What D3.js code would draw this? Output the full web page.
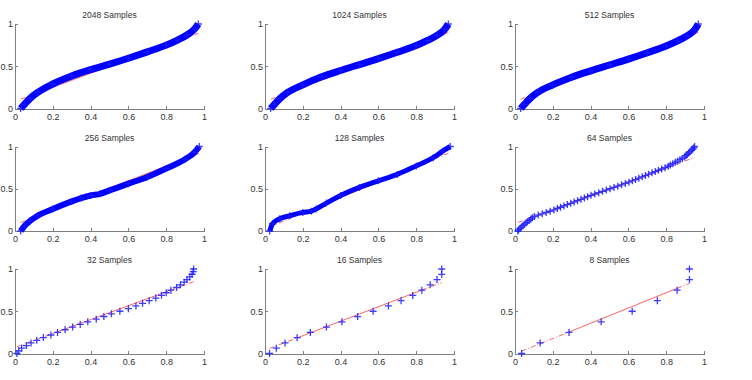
<!DOCTYPE html>
<html>
<head>
<meta charset="utf-8">
<script src="https://d3js.org/d3.v7.min.js"></script>
<style>
  body { margin: 0; background: #fff; }
  svg { display: block; }
  .axis path, .axis line { stroke: #808080; shape-rendering: crispEdges; }
  .axis text { fill: #333; font-family: "Liberation Sans", Arial, sans-serif; font-size: 9px; }
  .title { fill: #333; font-family: "Liberation Sans", Arial, sans-serif; font-size: 8.5px; }
</style>
</head>
<body>
<script>
const width = 752, height = 380;

const titles = ["2048 Samples", "1024 Samples", "512 Samples",
                "256 Samples", "128 Samples", "64 Samples",
                "32 Samples", "16 Samples", "8 Samples"];

const xTicks = [0, 0.2, 0.4, 0.6, 0.8, 1];
const yTicks = [0, 0.5, 1];

// dense panels: points
const x2048 = [0.03, 0.05, 0.08, 0.12, 0.2, 0.3, 0.4, 0.5, 0.6, 0.7, 0.8, 0.86, 0.91, 0.95, 0.97];
const y2048 = [0, 0.05, 0.12, 0.19, 0.29, 0.385, 0.46, 0.525, 0.595, 0.67, 0.75, 0.81, 0.87, 0.94, 1];
const x1024 = [0.03, 0.05, 0.08, 0.12, 0.2, 0.3, 0.4, 0.5, 0.6, 0.7, 0.8, 0.86, 0.91, 0.95, 0.97];
const y1024 = [0, 0.05, 0.12, 0.19, 0.28, 0.375, 0.45, 0.52, 0.59, 0.665, 0.745, 0.805, 0.865, 0.935, 1];
const x512 = [0.03, 0.05, 0.08, 0.12, 0.2, 0.3, 0.4, 0.5, 0.6, 0.7, 0.8, 0.86, 0.91, 0.95, 0.97];
const y512 = [0, 0.05, 0.12, 0.19, 0.28, 0.37, 0.445, 0.515, 0.585, 0.66, 0.74, 0.8, 0.86, 0.93, 1];
const x256 = [0.03, 0.05, 0.08, 0.12, 0.2, 0.3, 0.35, 0.4, 0.45, 0.5, 0.6, 0.7, 0.8, 0.9, 0.95, 0.975];
const y256 = [0, 0.06, 0.12, 0.18, 0.26, 0.35, 0.39, 0.42, 0.44, 0.48, 0.56, 0.64, 0.74, 0.85, 0.93, 1];
const x128 = [0.025, 0.04, 0.078, 0.13, 0.2, 0.245, 0.27, 0.325, 0.4, 0.5, 0.6, 0.7, 0.8, 0.89, 0.94, 0.98];
const y128 = [0, 0.086, 0.145, 0.18, 0.22, 0.235, 0.26, 0.33, 0.42, 0.516, 0.594, 0.67, 0.77, 0.867, 0.945, 1];

// sparse panels: every marker
const x64 = [0.015, 0.019, 0.027, 0.034, 0.042, 0.049, 0.058, 0.066, 0.075, 0.084, 0.092, 0.102, 0.123,
             0.144, 0.165, 0.186, 0.206, 0.224, 0.241, 0.259, 0.277, 0.295, 0.313, 0.331, 0.349, 0.367,
             0.384, 0.402, 0.422, 0.443, 0.463, 0.483, 0.503, 0.524, 0.544, 0.564, 0.584, 0.603, 0.621,
             0.638, 0.655, 0.673, 0.69, 0.707, 0.725, 0.742, 0.759, 0.776, 0.794, 0.811, 0.822, 0.835,
             0.848, 0.86, 0.873, 0.885, 0.897, 0.905, 0.911, 0.918, 0.925, 0.934, 0.941, 0.946, 0.95];
const y64 = [0, 0.016, 0.031, 0.047, 0.063, 0.078, 0.094, 0.109, 0.125, 0.141, 0.156, 0.172, 0.188,
             0.203, 0.219, 0.234, 0.25, 0.266, 0.281, 0.297, 0.313, 0.328, 0.344, 0.359, 0.375, 0.391,
             0.406, 0.422, 0.438, 0.453, 0.469, 0.484, 0.5, 0.516, 0.531, 0.547, 0.563, 0.578, 0.594,
             0.609, 0.625, 0.641, 0.656, 0.672, 0.688, 0.703, 0.719, 0.734, 0.75, 0.766, 0.781, 0.797,
             0.813, 0.828, 0.844, 0.859, 0.875, 0.891, 0.906, 0.922, 0.938, 0.953, 0.969, 0.984, 1];
const x32 = [0.01, 0.02, 0.035, 0.06, 0.085, 0.115, 0.15, 0.19, 0.225, 0.265, 0.305, 0.345, 0.385,
             0.43, 0.47, 0.51, 0.555, 0.6, 0.64, 0.675, 0.71, 0.745, 0.775, 0.8, 0.825, 0.855, 0.875,
             0.895, 0.91, 0.925, 0.937, 0.943, 0.945];
const y32 = [0, 0.031, 0.063, 0.094, 0.125, 0.156, 0.188, 0.219, 0.25, 0.281, 0.313, 0.344, 0.375,
             0.406, 0.438, 0.469, 0.5, 0.531, 0.563, 0.594, 0.625, 0.656, 0.688, 0.719, 0.75, 0.781,
             0.813, 0.844, 0.875, 0.906, 0.938, 0.969, 1];
const x16 = [0.024, 0.06, 0.106, 0.17, 0.24, 0.325, 0.407, 0.49, 0.572, 0.653, 0.72, 0.782, 0.83,
             0.874, 0.91, 0.935, 0.935];
const y16 = [0, 0.0625, 0.125, 0.1875, 0.25, 0.3125, 0.375, 0.4375, 0.5, 0.5625, 0.625, 0.6875,
             0.75, 0.8125, 0.875, 0.9375, 1];
const x8 = [0.035, 0.133, 0.286, 0.456, 0.62, 0.753, 0.858, 0.923, 0.923];
const y8 = [0, 0.125, 0.25, 0.375, 0.5, 0.625, 0.75, 0.875, 1];

// reference line per panel: [x1, y1, x2, y2], and solid (inter-quartile) x range
const refLines = [[0.03, 0.11, 0.97, 0.89], [0.03, 0.11, 0.97, 0.9], [0.03, 0.11, 0.97, 0.9],
                  [0.03, 0.1, 0.975, 0.92], [0.025, 0.05, 0.98, 0.93], [0.015, 0.1, 0.95, 0.87],
                  [0.01, 0.08, 0.945, 0.85], [0.024, 0.06, 0.935, 0.84], [0.035, 0.028, 0.923, 0.83]];
const solidRange = [[0.2, 0.8], [0.2, 0.8], [0.2, 0.8], [0.2, 0.8], [0.2, 0.8], [0.2, 0.8],
                    [0.2, 0.82], [0.17, 0.83], [0.286, 0.858]];

const xsAll = [x2048, x1024, x512, x256, x128, x64, x32, x16, x8];
const ysAll = [y2048, y1024, y512, y256, y128, y64, y32, y16, y8];

// band width for panels where markers merge into one thick stroke
const bandWidth = [7, 7, 7, 6, 5, 0, 0, 0, 0];

const colLeft = [15, 265, 515];
const rowTop = [24, 146.5, 269];
const pw = 189, ph = 84.5;

const svg = d3.select("body").append("svg").attr("width", width).attr("height", height);

titles.forEach((title, i) => {
    const col = i % 3, row = Math.floor(i / 3);
    const g = svg.append("g").attr("transform", `translate(${colLeft[col]},${rowTop[row]})`);

    const x = d3.scaleLinear().domain([0, 1]).range([0, pw]);
    const y = d3.scaleLinear().domain([0, 1]).range([ph, 0]);

    g.append("g").attr("class", "axis")
        .attr("transform", `translate(0,${ph})`)
        .call(d3.axisBottom(x).tickValues(xTicks).tickFormat(d => d).tickSize(-3).tickSizeOuter(0).tickPadding(5));
    g.append("g").attr("class", "axis")
        .call(d3.axisLeft(y).tickValues(yTicks).tickFormat(d => d).tickSize(-3).tickSizeOuter(0).tickPadding(2));

    g.append("text").attr("class", "title")
        .attr("x", pw / 2).attr("y", -6)
        .attr("text-anchor", "middle")
        .text(title);

    // red reference line: dash-dot outside the quartiles, solid inside
    const [x1, y1, x2, y2] = refLines[i];
    const lineY = v => y1 + (v - x1) * (y2 - y1) / (x2 - x1);
    const [s0, s1] = solidRange[i];
    const segs = [[x1, s0, "5,2,1,2"], [s0, s1, null], [s1, x2, "5,2,1,2"]];
    segs.forEach(([a, b, dash]) => {
        g.append("line")
            .attr("x1", x(a)).attr("y1", y(lineY(a)))
            .attr("x2", x(b)).attr("y2", y(lineY(b)))
            .attr("stroke", "#ff3030")
            .attr("stroke-opacity", 0.75)
            .attr("stroke-width", 1)
            .attr("stroke-dasharray", dash);
    });

    const pts = xsAll[i].map((v, k) => [v, ysAll[i][k]]);

    if (bandWidth[i] > 0) {
        g.append("path")
            .datum(pts)
            .attr("fill", "none")
            .attr("stroke", "#0000ff")
            .attr("stroke-width", bandWidth[i])
            .attr("stroke-linecap", "butt")
            .attr("d", d3.line().curve(d3.curveMonotoneX).x(d => x(d[0])).y(d => y(d[1])));
    }

    const m = 3.5;
    g.selectAll("path.mk")
        .data(pts)
        .enter().append("path")
        .attr("class", "mk")
        .attr("d", d => `M${x(d[0]) - m},${y(d[1])}h${2 * m}M${x(d[0])},${y(d[1]) - m}v${2 * m}`)
        .attr("stroke", "#1a1aff")
        .attr("stroke-opacity", 0.85)
        .attr("stroke-width", 1.3)
        .attr("fill", "none");
});
</script>
</body>
</html>
